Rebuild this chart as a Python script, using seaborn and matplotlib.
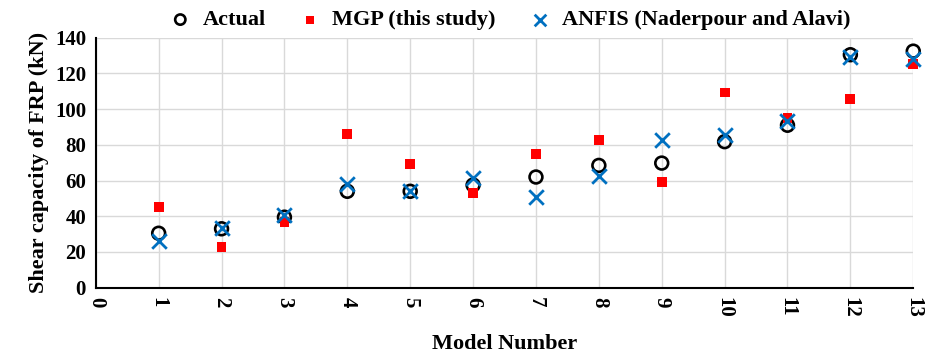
import matplotlib
matplotlib.use("Agg")
import matplotlib.pyplot as plt
import seaborn as sns
import pandas as pd

# valores
modelos = list(range(1, 14))
actual = [30.5, 33, 39.5, 54, 54, 57.5, 62, 68.5, 69.8, 81.8, 91, 130.5, 132.5]
mgp = [45, 23, 37, 86, 69.5, 53, 75, 82.8, 59, 109.3, 95, 105.8, 125.5]
anfis = [26, 33.5, 41, 58, 54, 61.5, 51, 62.5, 82.8, 85.5, 93.5, 129, 128]

df = pd.DataFrame({"model": modelos, "Actual": actual, "MGP": mgp, "ANFIS": anfis})

sns.set_style("white")
plt.rcParams["font.family"] = ["Liberation Serif", "DejaVu Serif"]
plt.rcParams["font.weight"] = "bold"
plt.rcParams["text.color"] = "black"
plt.rcParams["axes.labelcolor"] = "black"

fig, ax = plt.subplots(figsize=(9.3, 3.53), dpi=100)
fig.subplots_adjust(left=0.103, right=0.982, top=0.893, bottom=0.185)

sns.scatterplot(data=df, x="model", y="Actual", marker="o", s=85,
                facecolor="none", edgecolor="black", linewidth=1.9,
                ax=ax, label="Actual", zorder=3, clip_on=False)
sns.scatterplot(data=df, x="model", y="MGP", marker="s", s=50,
                color="#ff0000", edgecolor="none", ax=ax,
                label="MGP (this study)", zorder=4, clip_on=False)
sns.scatterplot(data=df, x="model", y="ANFIS", marker="x", s=110,
                color="#0070c0", linewidth=2.0, ax=ax,
                label="ANFIS (Naderpour and Alavi)", zorder=5, clip_on=False)

ax.set_xlim(0, 13)
ax.set_ylim(0, 140)
ax.set_xticks(range(0, 14))
ax.set_yticks(range(0, 141, 20))
ax.grid(True, color="#d9d9d9", linewidth=1)
ax.set_axisbelow(True)

for s in ["top", "right"]:
    ax.spines[s].set_visible(False)
for s in ["left", "bottom"]:
    ax.spines[s].set_color("black")
    ax.spines[s].set_linewidth(1.5)

ax.tick_params(axis="both", direction="inout", length=7, width=1.5,
               colors="black", labelsize=15)
ax.tick_params(axis="x", labelrotation=270, pad=3)
for lab in ax.get_xticklabels() + ax.get_yticklabels():
    lab.set_fontweight("bold")
    lab.set_color("black")

ax.set_xlabel("Model Number", fontsize=16, fontweight="bold", labelpad=12)
ax.set_ylabel("Shear capacity of FRP (kN)", fontsize=16, fontweight="bold",
              labelpad=4)

ax.legend(loc="lower center", bbox_to_anchor=(0.5, 0.985), ncol=3,
          frameon=False, handletextpad=0.0, columnspacing=1.0,
          borderaxespad=0.1, markerscale=0.8,
          prop={"weight": "bold", "size": 16})

fig.savefig("out.png", dpi=100)
